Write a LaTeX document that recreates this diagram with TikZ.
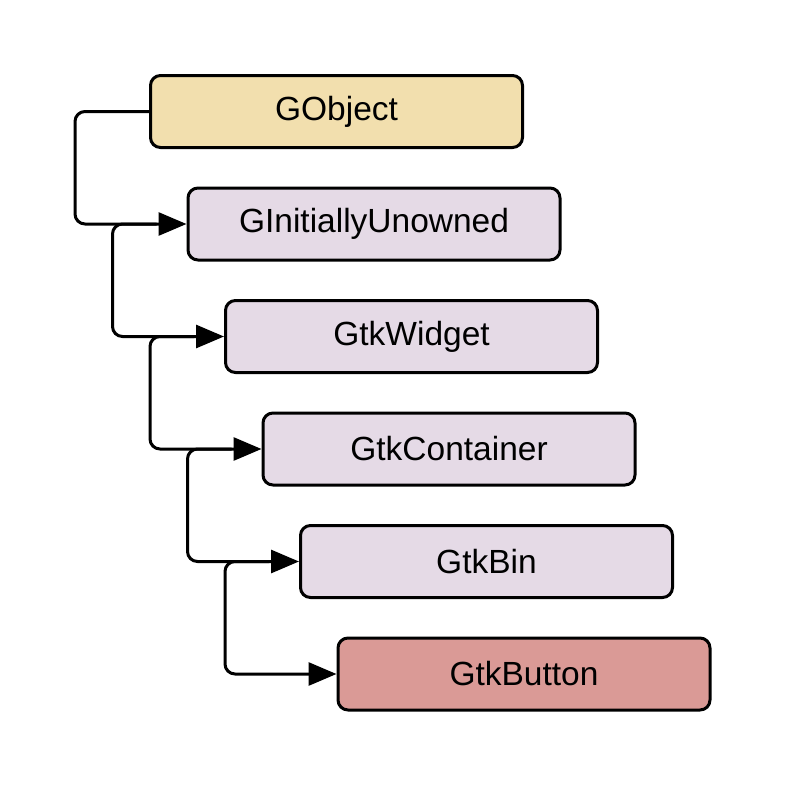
\documentclass[tikz,border=0pt]{standalone}
\usepackage{fontspec}
\setmainfont{Liberation Sans}
\usetikzlibrary{arrows.meta}
\definecolor{gold}{RGB}{242,223,174}
\definecolor{lilac}{RGB}{229,218,230}
\definecolor{rose}{RGB}{218,154,150}
\tikzset{
  cls/.style={draw=black, line width=3pt, rounded corners=10pt, minimum width=372pt, minimum height=72pt, inner sep=0pt, font=\fontsize{33.5}{40}\selectfont},
  inh/.style={line width=3pt, rounded corners=10pt, -{Triangle[length=28pt,width=23pt]}}
}
\begin{document}
\begin{tikzpicture}[x=1pt,y=-1pt]
\fill[white] (0,0) rectangle (788,788);
\useasboundingbox (0,0) rectangle (788,788);
\node[cls, fill=gold]  (o) at (336.5,111.5) {GObject};
\node[cls, fill=lilac] (u) at (374,224) {GInitiallyUnowned};
\node[cls, fill=lilac] (w) at (411.5,336.5) {GtkWidget};
\node[cls, fill=lilac] (c) at (449,449) {GtkContainer};
\node[cls, fill=lilac] (b) at (486.5,561.5) {GtkBin};
\node[cls, fill=rose]  (t) at (524,674) {GtkButton};
\draw[inh] (o.west) -- (75,111.5) -- (75,224) -- (u.west);
\draw[inh] (u.west) ++(-30,0) -- (112.5,224) -- (112.5,336.5) -- (w.west);
\draw[inh] (w.west) ++(-30,0) -- (150,336.5) -- (150,449) -- (c.west);
\draw[inh] (c.west) ++(-30,0) -- (187.5,449) -- (187.5,561.5) -- (b.west);
\draw[inh] (b.west) ++(-30,0) -- (225,561.5) -- (225,674) -- (t.west);
\end{tikzpicture}
\end{document}
